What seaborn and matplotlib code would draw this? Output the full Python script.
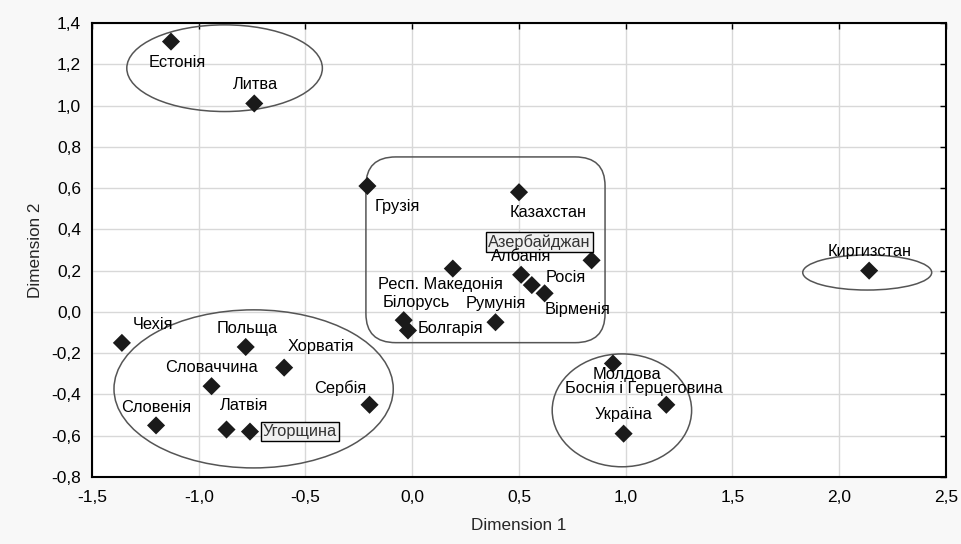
import matplotlib
matplotlib.use("Agg")
import matplotlib.pyplot as plt
import seaborn as sns
import pandas as pd
from matplotlib.patches import Ellipse, FancyBboxPatch

# ---- data ----
countries = ["Естонія", "Литва", "Грузія", "Казахстан", "Азербайджан",
             "Респ. Македонія", "Албанія", "Росія", "Вірменія", "Румунія",
             "Білорусь", "Болгарія", "Чехія", "Польща", "Хорватія",
             "Словаччина", "Сербія", "Словенія", "Латвія", "Угорщина",
             "Молдова", "Боснія і Герцеговина", "Україна", "Киргизстан"]
dim1 = [-1.13, -0.74, -0.21, 0.50, 0.84, 0.19, 0.51, 0.56, 0.62, 0.39,
        -0.04, -0.02, -1.36, -0.78, -0.60, -0.94, -0.20, -1.20, -0.87, -0.76,
        0.94, 1.19, 0.99, 2.14]
dim2 = [1.31, 1.01, 0.61, 0.58, 0.25, 0.21, 0.18, 0.13, 0.09, -0.05,
        -0.04, -0.09, -0.15, -0.17, -0.27, -0.36, -0.45, -0.55, -0.57, -0.58,
        -0.25, -0.45, -0.59, 0.20]
boxed_labels = ["Азербайджан", "Угорщина"]

x_ticks = [-1.5, -1.0, -0.5, 0.0, 0.5, 1.0, 1.5, 2.0, 2.5]
x_tick_labels = ["-1,5", "-1,0", "-0,5", "0,0", "0,5", "1,0", "1,5", "2,0", "2,5"]
y_ticks = [-0.8, -0.6, -0.4, -0.2, 0.0, 0.2, 0.4, 0.6, 0.8, 1.0, 1.2, 1.4]
y_tick_labels = ["-0,8", "-0,6", "-0,4", "-0,2", "0,0", "0,2", "0,4", "0,6",
                 "0,8", "1,0", "1,2", "1,4"]

# label placement (pixel offsets of label centre from point, screen y down)
label_offsets = {
    "Естонія": (6, 21), "Литва": (1, -19), "Грузія": (30, 20),
    "Казахстан": (29, 20), "Азербайджан": (-52, -18),
    "Респ. Македонія": (-12, 16), "Албанія": (0, -18), "Росія": (34, -8),
    "Вірменія": (33, 16), "Румунія": (0, -19), "Білорусь": (13, -18),
    "Болгарія": (42, -2), "Чехія": (31, -18), "Польща": (1, -18),
    "Хорватія": (37, -21), "Словаччина": (0, -19), "Сербія": (-29, -17),
    "Словенія": (0, -18), "Латвія": (18, -24), "Угорщина": (50, 0),
    "Молдова": (14, 11), "Боснія і Герцеговина": (-23, -16),
    "Україна": (0, -19), "Киргизстан": (0, -19),
}

# group outlines: (centre x, centre y, width, height)
group_ellipses = [(-0.879, 1.181, 0.916, 0.42),
                  (-0.743, -0.373, 1.308, 0.766),
                  (0.982, -0.477, 0.653, 0.547),
                  (2.131, 0.191, 0.604, 0.17)]
group_rect = (-0.217, -0.149, 1.12, 0.90)

df = pd.DataFrame({"country": countries, "Dimension 1": dim1, "Dimension 2": dim2})

sns.set_theme(style="white")
plt.rcParams["font.family"] = ["Liberation Sans", "DejaVu Sans"]

fig = plt.figure(figsize=(9.62, 5.44), dpi=100, facecolor="#f8f8f8")
ax = fig.add_axes([92 / 962, 1 - 477 / 544, (946 - 92) / 962, (477 - 23) / 544])
ax.set_facecolor("white")

sns.scatterplot(data=df, x="Dimension 1", y="Dimension 2", marker="D",
                color="#1a1a1a", s=85, edgecolor="none", ax=ax, zorder=5)

for c, x, y in zip(countries, dim1, dim2):
    dx, dy = label_offsets[c]
    kw = {}
    if c in boxed_labels:
        kw["bbox"] = dict(boxstyle="square,pad=0.12", fc="#f0f0f0", ec="black", lw=1)
        color = "#333333"
    else:
        color = "black"
    ax.annotate(c, (x, y), xytext=(dx, -dy), textcoords="offset pixels",
                ha="center", va="center", fontsize=11.8, color=color, zorder=6, **kw)

for cx, cy, w, h in group_ellipses:
    ax.add_patch(Ellipse((cx, cy), w, h, fill=False, ec="#555555", lw=1.1, zorder=4))
rx, ry, rw, rh = group_rect
ax.add_patch(FancyBboxPatch((rx, ry), rw, rh,
                            boxstyle="round,pad=0,rounding_size=0.14",
                            fill=False, ec="#555555", lw=1.1, zorder=4))

ax.set_xlim(-1.5, 2.5)
ax.set_ylim(-0.8, 1.4)
ax.set_xticks(x_ticks)
ax.set_xticklabels(x_tick_labels)
ax.set_yticks(y_ticks)
ax.set_yticklabels(y_tick_labels)
ax.grid(True, color="#d8d8d8", lw=1)
ax.set_axisbelow(True)
ax.tick_params(direction="in", length=4, width=1, top=True, right=True,
               labelsize=12.5, colors="black", pad=8)
ax.tick_params(axis="x", pad=9)
for s in ax.spines.values():
    s.set_color("black")
    s.set_linewidth(1.5)
ax.set_xlabel("Dimension 1", fontsize=12.3, labelpad=10)
ax.set_ylabel("Dimension 2", fontsize=12.3, labelpad=6)

fig.savefig("out.png", dpi=100, facecolor=fig.get_facecolor())
